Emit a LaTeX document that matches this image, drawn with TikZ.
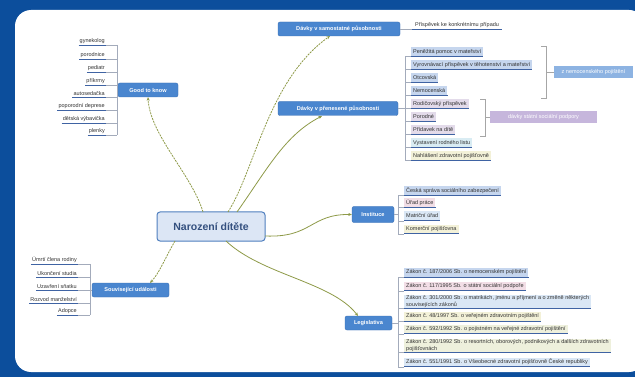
\documentclass[tikz,border=0pt]{standalone}
\usepackage{fontspec}
\setmainfont{Liberation Sans}
\usetikzlibrary{arrows.meta}
\definecolor{bgblue}{HTML}{0C4E9C}
\definecolor{brfill}{HTML}{4A86CF}
\definecolor{brdraw}{HTML}{3A6FB5}
\definecolor{cfill}{HTML}{DCE6F5}
\definecolor{cdraw}{HTML}{4F7FBF}
\definecolor{ctext}{HTML}{34507F}
\definecolor{conncol}{HTML}{8E9A48}
\definecolor{ulcol}{HTML}{3F63A3}
\definecolor{treecol}{HTML}{A3ABBB}
\definecolor{leaftext}{HTML}{333333}
\definecolor{lb}{HTML}{C6D6EE}
\definecolor{lav}{HTML}{E3DBEA}
\definecolor{cy}{HTML}{D9ECF3}
\definecolor{ye}{HTML}{F3F1D8}
\definecolor{pk}{HTML}{F2DEE6}
\definecolor{lbb}{HTML}{DAE7F5}
\definecolor{yg}{HTML}{EEF0DC}
\definecolor{labA}{HTML}{8DB3E2}
\definecolor{labB}{HTML}{C6B6DC}
\newcommand{\leaffont}{\fontsize{5.5}{6.2}\selectfont}
\tikzset{
  centerbox/.style={draw=cdraw, line width=1pt, fill=cfill, rounded corners=3pt, text=ctext,
    font=\fontsize{10.5}{12}\selectfont\bfseries, minimum width=108pt, minimum height=29pt},
  branch/.style={draw=brdraw, line width=0.4pt, fill=brfill, rounded corners=2pt, text=white,
    font=\fontsize{5.6}{6.5}\selectfont\bfseries, minimum height=14pt, inner xsep=2pt},
  leaf/.style={fill=#1, anchor=west, inner xsep=2pt, inner ysep=1pt, minimum height=9pt,
    font=\leaffont, text=leaftext, align=left},
  gleaf/.style={anchor=south east, inner xsep=1pt, inner ysep=1pt, font=\leaffont, text=leaftext},
  uline/.style={draw=ulcol, line width=0.7pt},
  treeline/.style={draw=treecol, line width=0.4pt},
  conn/.style={draw=conncol, line width=0.8pt, -{Stealth[length=3.5pt,width=3pt]}},
  dconn/.style={conn, dash pattern=on 2pt off 1pt},
  brk/.style={draw=gray!70, line width=0.5pt},
  tag/.style={fill=#1, text=white, font=\leaffont, minimum height=12pt, inner xsep=2pt}
}
\begin{document}
\begin{tikzpicture}[x=1pt,y=-1pt]
\useasboundingbox (0,0) rectangle (635,377);
\fill[bgblue] (0,0) rectangle (635,377);
\fill[white, rounded corners=16pt] (15,10) rectangle (645,372);

% center and branches
\node[centerbox] (c) at (211,226.5) {Narození dítěte};
\node[branch, minimum width=60pt] (gtk) at (148,90) {Good to know};
\node[branch, minimum width=122pt] (sam) at (339,29) {Dávky v samostatné působnosti};
\node[branch, minimum width=120pt] (pre) at (338,108.5) {Dávky v přenesené působnosti};
\node[branch, minimum width=42pt, minimum height=16pt] (ins) at (373,214.5) {Instituce};
\node[branch, minimum width=47pt] (leg) at (368.5,323) {Legislativa};
\node[branch, minimum width=77pt] (sou) at (130.5,290) {Související události};

% connectors
\coordinate (c1) at (203,212);
\coordinate (c2) at (228,212);
\coordinate (c3) at (237,212);
\coordinate (c4) at (265,236);
\coordinate (c5) at (226,241);
\coordinate (c6) at (175,241);
\draw[dconn] (c1) .. controls (192,175) and (150,135) .. (gtk.south);
\draw[dconn] (c2) .. controls (255,170) and (268,80) .. (330,36);
\draw[conn] (c3) .. controls (268,168) and (285,135) .. (322,116);
\draw[conn] (c4) .. controls (312,238) and (310,214) .. (ins.west);
\draw[conn] (c5) .. controls (262,275) and (332,282) .. (358,316);
\draw[dconn] (c6) .. controls (164,260) and (160,272) .. (150,283);

% Good to know leaves
\coordinate (gtr) at (117,0);
\foreach \n/\y/\t in {g1/45/gynekolog, g2/59/porodnice, g3/72/pediatr, g4/85/příkrmy,
  g5/97/autosedačka, g6/110/poporodní deprese, g7/123/dětská výbavička, g8/135/plenky}{
  \node[gleaf] (\n) at (106,\y) {\t};
  \draw[uline] (\n.south west) -- (\n.south east);
  \draw[treeline] (\n.south east) -- (\n.south east -| gtr);
}
\draw[treeline] (g1.south east -| gtr) -- (g8.south east -| gtr);

% Související události leaves
\coordinate (str) at (90,0);
\foreach \n/\y/\t in {s1/264/Úmrtí člena rodiny, s2/277/Ukončení studia, s3/290/Uzavření sňatku,
  s4/303/Rozvod manželství, s5/315/Adopce}{
  \node[gleaf] (\n) at (78,\y) {\t};
  \draw[uline] (\n.south west) -- (\n.south east);
  \draw[treeline] (\n.south east) -- (\n.south east -| str);
}
\draw[treeline] (s1.south east -| str) -- (s5.south east -| str);
\draw[treeline] (sou.west) -- (sou.west -| str);

% samostatná leaf
\node[gleaf, anchor=south west] (a1) at (414,29) {Příspěvek ke konkrétnímu případu};
\draw[uline] ([xshift=-2pt]a1.south west) -- ([xshift=2pt]a1.south east);
\draw[treeline] (sam.east) -- ([xshift=-2pt]a1.south west);

% přenesená leaves
\coordinate (ptr) at (405,0);
\foreach \n/\y/\c/\t in {p1/52/lb/Peněžitá pomoc v mateřství,
  p2/65/lb/Vyrovnávací příspěvek v těhotenství a mateřství,
  p3/78/lb/Otcovská, p4/91/lb/Nemocenská,
  p5/104/lav/Rodičovský příspěvek, p6/117/lav/Porodné, p7/130/lav/Přídavek na dítě,
  p8/143/cy/Vystavení rodného listu, p9/156/ye/Nahlášení zdravotní pojišťovně}{
  \node[leaf=\c] (\n) at (411,\y) {\t};
  \draw[uline] (\n.south west) -- (\n.south east);
  \draw[treeline] (\n.south west) -- (\n.south west -| ptr);
}
\draw[treeline] (p1.south west -| ptr) -- (p9.south west -| ptr);
\draw[treeline] (pre.east) -- (pre.east -| ptr);

% brackets and tags
\node[tag=labA, minimum width=79pt] (tA) at (593.5,72) {z nemocenského pojištění};
\node[tag=labB, minimum width=107pt] (tB) at (543.5,117.5) {dávky státní sociální podpory};
\draw[brk] (541,46) -- (546,46) -- (546,98) -- (541,98);
\draw[brk] (546,72) -- (tA.west);
\draw[brk] (480,99) -- (485,99) -- (485,136) -- (480,136);
\draw[brk] (485,117.5) -- (tB.west);

% Instituce leaves
\coordinate (itr) at (398,0);
\foreach \n/\y/\c/\t in {i1/191/lb/Česká správa sociálního zabezpečení, i2/203/pk/Úřad práce,
  i3/216/lbb/Matriční úřad, i4/229/ye/Komerční pojišťovna}{
  \node[leaf=\c] (\n) at (404,\y) {\t};
  \draw[uline] (\n.south west) -- (\n.south east);
  \draw[treeline] (\n.south west) -- (\n.south west -| itr);
}
\draw[treeline] (i1.south west -| itr) -- (i4.south west -| itr);
\draw[treeline] (ins.east) -- (ins.east -| itr);

% Legislativa leaves
\coordinate (ltr) at (398,0);
\node[leaf=lb] (l1) at (404,272.5) {Zákon č. 187/2006 Sb. o nemocenském pojištění};
\node[leaf=pk] (l2) at (404,286) {Zákon č. 117/1995 Sb. o státní sociální podpoře};
\node[leaf=lbb] (l3) at (404,301.5) {Zákon č. 301/2000 Sb. o matrikách, jménu a příjmení a o změně některých\\souvisejících zákonů};
\node[leaf=ye] (l4) at (404,316.5) {Zákon č. 48/1997 Sb. o veřejném zdravotním pojištění};
\node[leaf=yg] (l5) at (404,329) {Zákon č. 592/1992 Sb. o pojistném na veřejné zdravotní pojištění};
\node[leaf=yg] (l6) at (404,345.5) {Zákon č. 280/1992 Sb. o resortních, oborových, podnikových a dalších zdravotních\\pojišťovnách};
\node[leaf=lbb] (l7) at (404,362) {Zákon č. 551/1991 Sb. o Všeobecné zdravotní pojišťovně České republiky};
\foreach \n in {l1,l2,l3,l4,l5,l6,l7}{
  \draw[uline] (\n.south west) -- (\n.south east);
  \draw[treeline] (\n.south west) -- (\n.south west -| ltr);
}
\draw[treeline] (l1.south west -| ltr) -- (l7.south west -| ltr);
\draw[treeline] (leg.east) -- (leg.east -| ltr);
\end{tikzpicture}
\end{document}
